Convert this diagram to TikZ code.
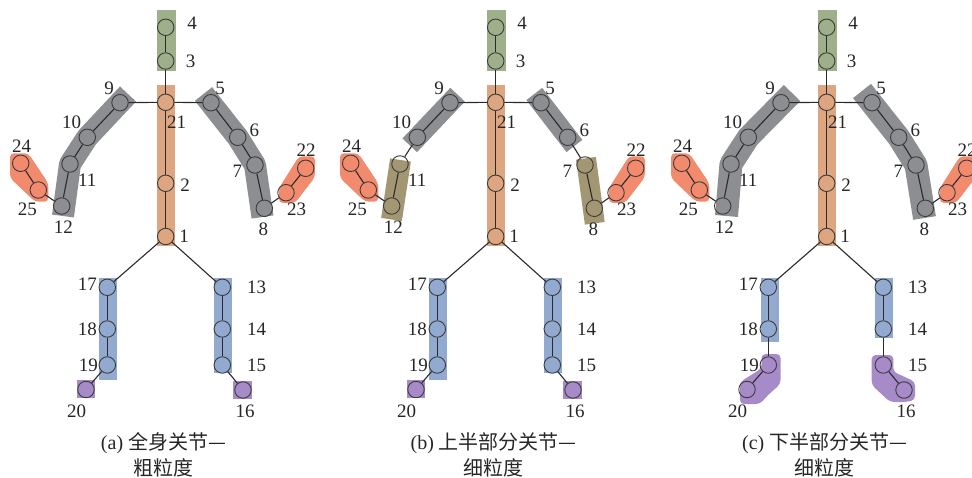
\documentclass[tikz,border=0pt]{standalone}
\usepackage{fontspec}
\setmainfont{Liberation Serif}
\newfontfamily\cjk{Noto Sans CJK SC}
\definecolor{cgreen}{HTML}{9DB08A}
\definecolor{corange}{HTML}{DDA680}
\definecolor{cgray}{HTML}{8C8E92}
\definecolor{csalmon}{HTML}{F28A6E}
\definecolor{cblue}{HTML}{93AAD0}
\definecolor{cpurple}{HTML}{A78BC8}
\definecolor{ctan}{HTML}{A39673}
\definecolor{jointc}{HTML}{3C3C3C}
\definecolor{bonec}{HTML}{2A2A2A}
\tikzset{
  jt/.style={circle, draw=jointc, line width=0.9pt, minimum size=16.5pt, inner sep=0pt},
  bone/.style={draw=bonec, line width=1.1pt},
  lbl/.style={font=\fontsize{19}{19}\selectfont, inner sep=0pt, text=black!85},
  band/.style={line width=20pt, line join=round, line cap=butt},
  region/.style={rounded corners=4pt},
  captxt/.style={font=\fontsize{20}{24}\selectfont, inner sep=0pt, text=black!85},
}
\newcommand\regcommon{%
  \fill[cgreen] (157,10) rectangle (175.7,70.7);
  \fill[corange] (157,85) rectangle (175,246);
  \fill[csalmon, region] (10,153.3) -- (28.3,153.3) -- (48.3,183.3) -- (48.3,201.7) -- (35,201.7) -- (10,178) -- cycle;
  \fill[csalmon, region] (299,156.3) -- (315,156.3) -- (315,177) -- (295,203) -- (279,203) -- (279,188) -- cycle;
}
\newcommand\skeleton{%
  \node[jt] (j4) at (165.7,27.3) {};
  \node[jt] (j3) at (165.7,61) {};
  \node[jt] (j21) at (165.7,102.3) {};
  \node[jt] (j2) at (165.7,183.3) {};
  \node[jt] (j1) at (165.7,236.5) {};
  \node[jt] (j9) at (120,102.7) {};
  \node[jt] (j10) at (87.3,137.3) {};
  \node[jt] (j11) at (70,164) {};
  \node[jt] (j12) at (61.7,206) {};
  \node[jt] (j24) at (20.7,163.3) {};
  \node[jt] (j25) at (38.3,190) {};
  \node[jt] (j5) at (211,102.7) {};
  \node[jt] (j6) at (237.7,137.3) {};
  \node[jt] (j7) at (255,165) {};
  \node[jt] (j8) at (264.3,208.3) {};
  \node[jt] (j22) at (305.7,168.3) {};
  \node[jt] (j23) at (286,192.7) {};
  \node[jt] (j17) at (107.3,287.3) {};
  \node[jt] (j18) at (107.3,329) {};
  \node[jt] (j19) at (107.3,365) {};
  \node[jt] (j20) at (86,389.5) {};
  \node[jt] (j13) at (222.3,287.3) {};
  \node[jt] (j14) at (222.3,329) {};
  \node[jt] (j15) at (222.3,365) {};
  \node[jt] (j16) at (243,390) {};
  \foreach \a/\b in {4/3,3/21,21/9,21/5,21/2,2/1,9/10,10/11,11/12,12/25,25/24,5/6,6/7,7/8,8/23,23/22,1/17,1/13,17/18,18/19,19/20,13/14,14/15,15/16}
    \draw[bone] (j\a) -- (j\b);
  \node[lbl] (l4) at (192,23) {4};
  \node[lbl] (l3) at (190.7,61.7) {3};
  \node[lbl] (l21) at (176.5,122.7) {21};
  \node[lbl] (l9) at (109,88) {9};
  \node[lbl] (l5) at (220,88) {5};
  \node[lbl] (l10) at (71.7,122.7) {10};
  \node[lbl] (l6) at (254.3,130) {6};
  \node[lbl] (l24) at (21.7,146) {24};
  \node[lbl] (l22) at (306,150.7) {22};
  \node[lbl] (l11) at (87.3,180) {11};
  \node[lbl] (l7) at (237.3,171.7) {7};
  \node[lbl] (l2) at (185,185) {2};
  \node[lbl] (l25) at (27.3,209.3) {25};
  \node[lbl] (l23) at (296.7,209.3) {23};
  \node[lbl] (l12) at (63.3,227.7) {12};
  \node[lbl] (l8) at (263.3,229.3) {8};
  \node[lbl] (l1) at (184,236) {1};
  \node[lbl] (l17) at (87.3,284) {17};
  \node[lbl] (l18) at (87.3,329) {18};
  \node[lbl] (l19) at (88.3,365) {19};
  \node[lbl] (l20) at (76.7,411.7) {20};
  \node[lbl] (l13) at (256.7,287.3) {13};
  \node[lbl] (l14) at (256.7,329) {14};
  \node[lbl] (l15) at (256.7,365) {15};
  \node[lbl] (l16) at (245,411.7) {16};
}
\begin{document}
\begin{tikzpicture}[x=1pt,y=-1pt]
\useasboundingbox (0,0) rectangle (972,478);
\clip (0,0) rectangle (972,478);
% ---------------- (a)
\begin{scope}[name prefix=a-]
  \regcommon
  \draw[band, cgray, line width=22pt] (128,94) -- (87.3,137.3) -- (70,164) -- (63,216);
  \draw[band, cgray, line width=22pt] (203.5,94) -- (237.7,137.3) -- (255,165) -- (262.5,217);
  \fill[cblue] (99,278) rectangle (117.3,380);
  \fill[cblue] (214,278) rectangle (232.3,373.3);
  \fill[cpurple] (76.7,380) rectangle (95,398.3);
  \fill[cpurple] (233.3,380.7) rectangle (251.7,399);
  \skeleton
  \node[captxt] (cap1) at (163.5,443.5) {(a) {\cjk 全身关节—}};
  \node[captxt] (cap2) at (163,467.5) {\cjk 粗粒度};
\end{scope}
% ---------------- (b)
\begin{scope}[xshift=330pt, name prefix=b-]
  \regcommon
  \draw[band, cgray] (127.6,94.7) -- (79.7,145.3);
  \draw[band, ctan, line width=21pt] (70.5,160) -- (61.5,219.5);
  \draw[band, cgray] (204.3,94) -- (244.4,146);
  \draw[band, ctan] (256,158.3) -- (264.8,223.3);
  \fill[cblue] (99,278) rectangle (117.3,380);
  \fill[cblue] (214,278) rectangle (232.3,373.3);
  \fill[cpurple] (76.7,380) rectangle (95,398.3);
  \fill[cpurple] (233.3,380.7) rectangle (251.7,399);
  \skeleton
  \node[captxt] (cap1) at (163.7,443.5) {(b) {\cjk 上半部分关节—}};
  \node[captxt] (cap2) at (163.3,467.5) {\cjk 细粒度};
\end{scope}
% ---------------- (c)
\begin{scope}[xshift=661pt, name prefix=c-]
  \regcommon
  \draw[band, cgray, line width=23pt] (131,93) -- (87.3,137.3) -- (70,164) -- (65.5,216);
  \draw[band, cgray, line width=23pt] (201,91) -- (237.7,137.3) -- (255,165) -- (263.5,218);
  \fill[cblue] (100,278) rectangle (118.3,341.7);
  \fill[cblue] (214,278) rectangle (231.7,338.3);
  \fill[cpurple, region] (100.5,354) -- (119.5,354) -- (119.5,384) -- (107,395) -- (99,404) -- (79,404) -- (79,382) -- (100.5,368.5) -- cycle;
  \fill[cpurple, region] (210.7,355) -- (232.3,355) -- (232.3,371.7) -- (254,381.7) -- (254,400) -- (245,402) -- (229,402) -- (210.7,385) -- cycle;
  \skeleton
  \node[captxt] (cap1) at (163.7,443.5) {(c) {\cjk 下半部分关节—}};
  \node[captxt] (cap2) at (163,467.5) {\cjk 细粒度};
\end{scope}
\end{tikzpicture}
\end{document}
